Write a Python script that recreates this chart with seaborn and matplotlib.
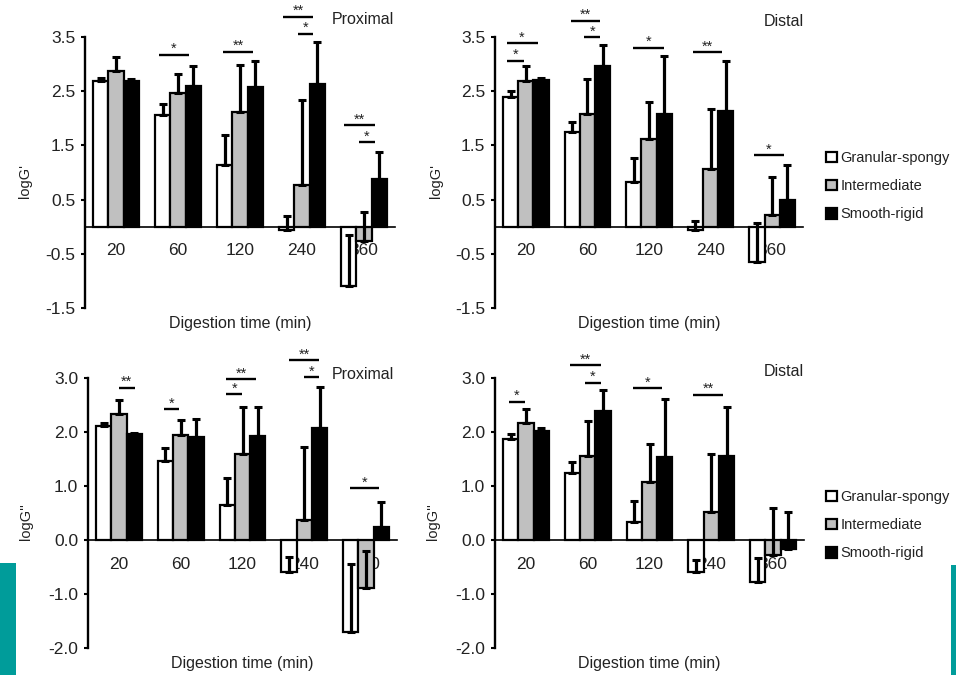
import numpy as np
import pandas as pd
import seaborn as sns
import matplotlib
matplotlib.use("Agg")
import matplotlib.pyplot as plt
from matplotlib.patches import Patch, Rectangle
from matplotlib.ticker import FormatStrFormatter

times = ["20", "60", "120", "240", "360"]
types = ["Granular-spongy", "Intermediate", "Smooth-rigid"]
colors = ["white", "#c0c0c0", "black"]

# rows: granular-spongy, intermediate, smooth-rigid ; upper error only (Excel style)
gp_prox_mean = [[2.68, 2.06, 1.13, -0.07, -1.09],
                [2.88, 2.46, 2.11, 0.77, -0.26],
                [2.68, 2.60, 2.57, 2.63, 0.88]]
gp_prox_err = [[0.07, 0.20, 0.57, 0.27, 0.93],
               [0.26, 0.36, 0.87, 1.56, 0.54],
               [0.05, 0.37, 0.49, 0.77, 0.50]]

gp_dist_mean = [[2.39, 1.74, 0.82, -0.07, -0.66],
                [2.69, 2.08, 1.62, 1.06, 0.22],
                [2.70, 2.97, 2.08, 2.14, 0.49]]
gp_dist_err = [[0.12, 0.20, 0.44, 0.18, 0.73],
               [0.28, 0.65, 0.68, 1.12, 0.70],
               [0.05, 0.38, 1.07, 0.91, 0.65]]

gpp_prox_mean = [[2.11, 1.47, 0.65, -0.60, -1.71],
                 [2.33, 1.94, 1.59, 0.37, -0.88],
                 [1.96, 1.90, 1.93, 2.07, 0.25]]
gpp_prox_err = [[0.05, 0.23, 0.49, 0.29, 1.27],
                [0.26, 0.29, 0.88, 1.36, 0.68],
                [0.02, 0.35, 0.54, 0.76, 0.46]]

gpp_dist_mean = [[1.87, 1.25, 0.34, -0.59, -0.78],
                 [2.16, 1.56, 1.08, 0.51, -0.28],
                 [2.01, 2.39, 1.53, 1.56, -0.17]]
gpp_dist_err = [[0.09, 0.19, 0.39, 0.22, 0.44],
                [0.26, 0.65, 0.70, 1.09, 0.87],
                [0.07, 0.38, 1.09, 0.91, 0.68]]

# significance bars: (group, start offset, end offset, height, label)
gp_prox_sig = [(1, -0.31, 0.18, 3.17, "*"), (2, -0.27, 0.21, 3.23, "**"),
               (3, -0.30, 0.18, 3.87, "**"), (3, -0.07, 0.18, 3.56, "*"),
               (4, -0.32, 0.18, 1.87, "**"), (4, -0.08, 0.18, 1.56, "*")]
gp_dist_sig = [(0, -0.31, 0.19, 3.39, "*"), (0, -0.31, -0.03, 3.06, "*"),
               (1, -0.27, 0.21, 3.80, "**"), (1, -0.05, 0.21, 3.50, "*"),
               (2, -0.26, 0.24, 3.30, "*"), (3, -0.29, 0.19, 3.22, "**"),
               (4, -0.29, 0.19, 1.32, "*")]
gpp_prox_sig = [(0, 0.00, 0.26, 2.82, "**"), (1, -0.27, -0.02, 2.42, "*"),
                (2, -0.26, 0.22, 2.98, "**"), (2, -0.26, -0.01, 2.70, "*"),
                (3, -0.24, 0.24, 3.33, "**"), (3, 0.00, 0.24, 3.01, "*"),
                (4, -0.26, 0.21, 0.96, "*")]
gpp_dist_sig = [(0, -0.27, -0.02, 2.56, "*"), (1, -0.28, 0.21, 3.24, "**"),
                (1, -0.05, 0.21, 2.91, "*"), (2, -0.27, 0.21, 2.81, "*"),
                (3, -0.29, 0.19, 2.69, "**")]

sns.set_style("white")
plt.rcParams["font.family"] = ["Liberation Sans", "DejaVu Sans"]
plt.rcParams["axes.unicode_minus"] = False

W, H = 956, 675
fig = plt.figure(figsize=(W / 100, H / 100), dpi=100)


def px_axes(left, top, right, bottom):
    return fig.add_axes([left / W, 1 - bottom / H, (right - left) / W, (bottom - top) / H])


def draw_panel(ax, mean, err, sig, ylim, yticks, ylabel, ylab_xy, title, title_xy):
    mean = np.array(mean)
    err = np.array(err)
    df = pd.DataFrame({
        "time": np.tile(times, 3),
        "type": np.repeat(types, 5),
        "value": mean.ravel(),
    })
    width = 0.74
    sns.barplot(data=df, x="time", y="value", hue="type", order=times, hue_order=types,
                palette=colors, saturation=1, edgecolor="black", linewidth=1.6,
                width=width, errorbar=None, legend=False, ax=ax)
    w = width / 3
    for j in range(3):
        xs = np.arange(len(times)) + (j - 1) * w
        ax.errorbar(xs, mean[j], yerr=[np.zeros(len(times)), err[j]], fmt="none",
                    ecolor="black", elinewidth=2.3, capsize=2.6, capthick=2.2, zorder=3)

    for g, x0, x1, y, lab in sig:
        ax.plot([g + x0, g + x1], [y, y], color="black", lw=1.7, clip_on=False,
                solid_capstyle="butt")
        ax.annotate(lab, (g + (x0 + x1) / 2, y), xytext=(0, 1.2), textcoords="offset points",
                    ha="center", va="baseline", fontsize=10.5, color="#222222",
                    annotation_clip=False)

    ax.set_xlim(-0.5, len(times) - 0.5)
    ax.set_ylim(*ylim)
    ax.set_yticks(yticks)
    ax.yaxis.set_major_formatter(FormatStrFormatter("%.1f"))
    for s in ["top", "right"]:
        ax.spines[s].set_visible(False)
    ax.spines["bottom"].set_position(("data", 0))
    ax.spines["bottom"].set_linewidth(1.2)
    ax.spines["left"].set_linewidth(1.7)
    ax.spines["left"].set_color("black")
    ax.spines["bottom"].set_color("black")
    ax.tick_params(axis="x", length=0, pad=12, labelsize=12.5, labelcolor="#222222")
    ax.tick_params(axis="y", direction="out", length=3, width=1.5, left=True,
                   labelsize=12.5, pad=4, labelcolor="#222222", color="black")
    ax.set_axisbelow(True)
    ax.set_xlabel("Digestion time (min)", fontsize=11.5, color="#222222")
    ax.xaxis.set_label_coords(0.5, -0.028)
    ax.set_ylabel(ylabel, fontsize=10.5, color="#222222")
    ax.yaxis.set_label_coords(*ylab_xy)
    ax.text(*title_xy, title, transform=ax.transAxes, ha="center", va="center",
            fontsize=11.5, color="#222222")


ax1 = px_axes(85, 37, 395, 308)
draw_panel(ax1, gp_prox_mean, gp_prox_err, gp_prox_sig, (-1.5, 3.5),
           np.arange(-1.5, 3.6, 1.0), "logG'", (-0.17, 0.47), "Proximal", (0.897, 1.063))
ax2 = px_axes(495, 37, 803, 308)
draw_panel(ax2, gp_dist_mean, gp_dist_err, gp_dist_sig, (-1.5, 3.5),
           np.arange(-1.5, 3.6, 1.0), "logG'", (-0.17, 0.47), "Distal", (0.938, 1.059))
ax3 = px_axes(88, 378, 397, 648)
draw_panel(ax3, gpp_prox_mean, gpp_prox_err, gpp_prox_sig, (-2.0, 3.0),
           np.arange(-2.0, 3.1, 1.0), "logG''", (-0.178, 0.468), "Proximal", (0.89, 1.012))
ax4 = px_axes(495, 378, 804, 648)
draw_panel(ax4, gpp_dist_mean, gpp_dist_err, gpp_dist_sig, (-2.0, 3.0),
           np.arange(-2.0, 3.1, 1.0), "logG''", (-0.178, 0.468), "Distal", (0.935, 1.023))

handles = [Patch(facecolor=c, edgecolor="black", linewidth=1.6, label=t)
           for c, t in zip(colors, types)]
for top in (151, 490):
    fig.legend(handles=handles, loc="upper left", bbox_to_anchor=(826 / W, 1 - top / H),
               frameon=False, fontsize=10.5, handlelength=0.75, handleheight=0.75,
               handletextpad=0.25, labelspacing=0.97, borderpad=0, borderaxespad=0,
               labelcolor="#222222")

# teal slide edges
fig.add_artist(Rectangle((0, 0), 16 / W, 112 / H, transform=fig.transFigure,
                         color="#009c9a", lw=0))
fig.add_artist(Rectangle((951 / W, 0), 5 / W, 110 / H, transform=fig.transFigure,
                         color="#009c9a", lw=0))

fig.savefig("out.png", dpi=100)
